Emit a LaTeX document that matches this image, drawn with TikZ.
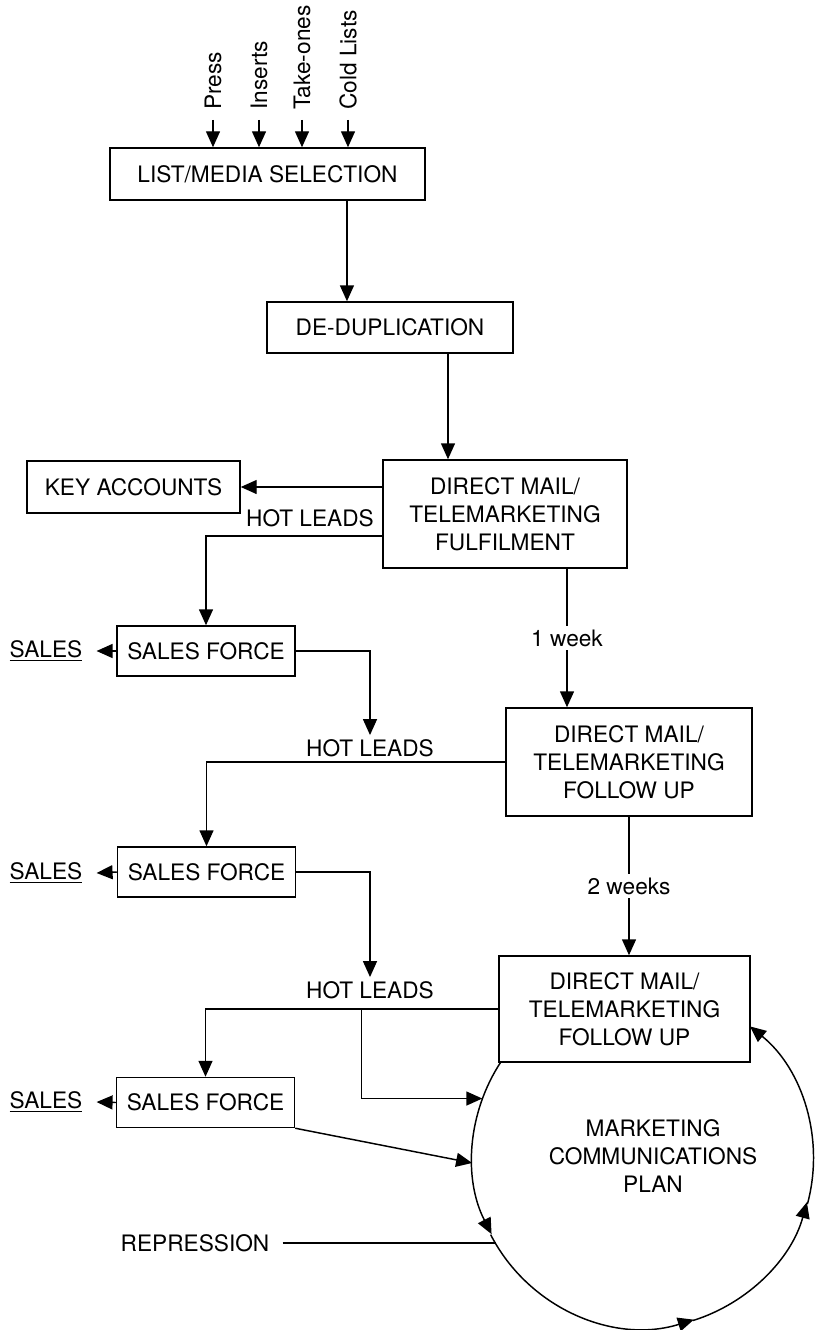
\documentclass[tikz,border=0pt]{standalone}
\usepackage{fontspec}
\setmainfont{TeX Gyre Heros}
\usetikzlibrary{arrows.meta}
\begin{document}
\begin{tikzpicture}[x=0.75pt,y=-0.75pt,
  every node/.style={font=\fontsize{17}{21}\selectfont},
  box/.style={draw, line width=1.1pt, align=center, inner sep=0pt},
  sfbox/.style={box, minimum width=133.5pt, minimum height=37.5pt},
  dmbox/.style={box, minimum width=184.5pt, minimum height=81pt},
  arr/.style={line width=1.1pt, -{Triangle[length=12pt,width=10.5pt]}},
  link/.style={line width=1.1pt},
  tag/.style={inner sep=3pt},
  gaplabel/.style={fill=white, inner sep=3pt},
  source/.style={rotate=90, anchor=west, inner sep=0pt},
  sales/.style={inner xsep=10.5pt, inner ysep=2pt},
]
\fill[white] (0,0) rectangle (814,1330);
\useasboundingbox (0,0) rectangle (814,1330);

% boxes
\node[box, minimum width=236.25pt, minimum height=39pt] (lms) at (267.5,174) {LIST/MEDIA SELECTION};
\node[box, minimum width=184.5pt, minimum height=38.25pt] (dedup) at (390,327.5) {DE-DUPLICATION};
\node[box, minimum width=183pt, minimum height=81pt] (dmf) at (505,514) {DIRECT MAIL/\\TELEMARKETING\\FULFILMENT};
\node[box, minimum width=159.75pt, minimum height=39pt] (key) at (133.5,487) {KEY ACCOUNTS};
\node[sfbox] (sf1) at (206,651) {SALES FORCE};
\node[dmbox] (dmfu1) at (629,762) {DIRECT MAIL/\\TELEMARKETING\\FOLLOW UP};
\node[sfbox] (sf2) at (206.5,872) {SALES FORCE};
\node[dmbox, minimum width=188.25pt, minimum height=79.5pt] (dmfu2) at (624.5,1009) {DIRECT MAIL/\\TELEMARKETING\\FOLLOW UP};
\node[sfbox] (sf3) at (205.5,1102.5) {SALES FORCE};

% sources feeding the list selection
\node[source] (press) at (213,110) {Press};
\node[source] (inserts) at (259,110) {Inserts};
\node[source] (takeones) at (302,110) {Take-ones};
\node[source] (cold) at (348,110) {Cold Lists};
\foreach \n in {press,inserts,takeones,cold}
  \draw[arr] ([yshift=-7.5pt]\n.west) -- (\n.west |- lms.north);

% main flow
\draw[arr] ([xshift=59.6pt]lms.south) coordinate (a1) -- (a1 |- dedup.north);
\draw[arr] ([xshift=43.5pt]dedup.south) coordinate (a2) -- (a2 |- dmf.north);
\draw[arr] (dmf.west |- key.east) -- (key.east);
\draw[arr] ([yshift=-16.5pt]dmf.west) -| (sf1.north);
\node[tag] (hl1) at (310,518) {HOT LEADS};
\node[sales] (s1) at (46,651) {\underline{SALES}};
\draw[arr] (sf1.west) -- (s1.east);
\draw[arr] ([xshift=46.5pt]dmf.south) coordinate (a3) -- node[gaplabel] {1 week} (a3 |- dmfu1.north);

\node[tag] (hl2) at (370,748) {HOT LEADS};
\draw[arr] (sf1.east) -| (hl2.north);
\draw[arr] (dmfu1.west) -| (sf2.north);
\node[sales] (s2) at (46,873) {\underline{SALES}};
\draw[arr] (sf2.west) -- (s2.east);
\draw[arr] (dmfu1.south) -- node[gaplabel] {2 weeks} (dmfu1.south |- dmfu2.north);

\node[tag] (hl3) at (370,990) {HOT LEADS};
\draw[arr] (sf2.east) -| (hl3.north);
\draw[arr] (dmfu2.west) -| (sf3.north);
\node[sales] (s3) at (46,1102) {\underline{SALES}};
\draw[arr] (sf3.west) -- (s3.east);

% marketing communications plan cycle
\node[circle, minimum size=256.5pt, inner sep=0pt, outer sep=0pt] (mcp) at (643,1157) {};
\node[align=center] (mcptext) at (653,1156) {MARKETING\\COMMUNICATIONS\\PLAN};
\path (dmfu2.west) -- coordinate[pos=0.467] (br) (dmfu2.west -| sf3.north);
\draw[arr] (br) |- (mcp.160);
\draw[arr] (sf3.south east) -- (mcp.182);
\node[inner xsep=9.75pt] (rep) at (195,1243) {REPRESSION};
\draw[link] (rep.east) -- (rep.east -| mcp.211);

\draw[arr] (mcp.146.4) arc[start angle=146.4, end angle=207.2, radius=128.25pt];
\draw[arr] (mcp.207.2) arc[start angle=207.2, end angle=287.4, radius=128.25pt];
\draw[arr] (mcp.287.4) arc[start angle=287.4, end angle=344.8, radius=128.25pt];
\draw[arr] (mcp.344.8) arc[start angle=344.8, end angle=411, radius=128.25pt];
\end{tikzpicture}
\end{document}
